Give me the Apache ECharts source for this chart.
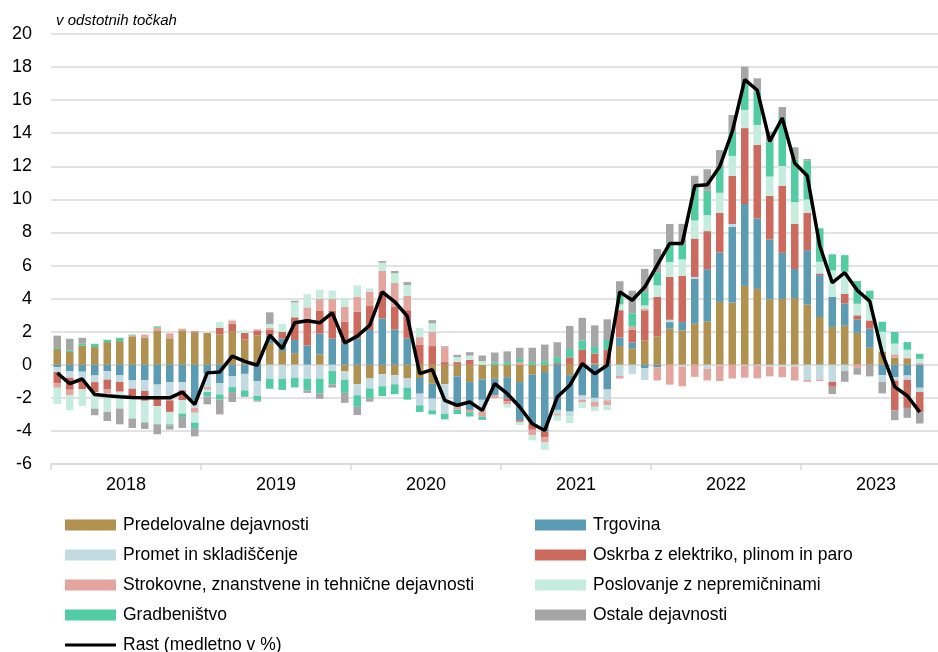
<!DOCTYPE html>
<html>
<head>
<meta charset="utf-8">
<title>Prispevki dejavnosti k rasti</title>
<script src="https://cdn.jsdelivr.net/npm/echarts@6/dist/echarts.min.js"></script>
<style>
  html, body { margin: 0; padding: 0; background: #ffffff; }
  #chart { width: 938px; height: 652px; }
</style>
</head>
<body>
<div id="chart"></div>
<script>
// leta na osi, 12 mesecev na leto (2023 samo do oktobra)
const years = ['2018', '2019', '2020', '2021', '2022', '2023']

// prispevki v odstotnih tockah, jan 2018 - okt 2023
const predelovalne = [0.95, 0.77, 1.15, 1.07, 1.37, 1.43, 1.72, 1.64, 2.04, 1.6, 2.08, 1.96,
  1.92, 1.84, 2.04, 1.52, 1.78, 1.31, 0.83, 0.7, 0, 0.63, 0, -0.4,
  -1.17, -0.83, -0.57, -0.63, -0.83, -0.8, -1.15, -1.17, -0.7, -1.05, -0.89, -0.85,
  -0.75, -1.05, -0.6, -0.44, 0, -0.63, -0.1, 0.08, 0, 1.13, 1.0, 1.47,
  1.72, 2.18, 2.08, 2.48, 2.63, 3.8, 3.76, 4.77, 4.59, 3.96, 3.98, 4.03,
  3.64, 2.89, 2.29, 2.36, 1.93, 1.03, 0.8, 0.43, 0.35, 0]
const trgovina = [-0.14, -0.4, -0.42, -0.65, -0.4, -0.64, -0.95, -0.93, -1.2, -1.05, -1.05, -2.15,
  -0.55, -1.1, -0.7, -0.55, -1.0, 0.46, 0.75, 0.8, 1.17, 1.25, 1.58, 1.3,
  1.6, 2.1, 2.8, 2.14, 1.6, -0.95, -0.9, 0, -1.86, -1.68, -1.23, -1.0,
  -1.3, -2.3, -2.97, -3.6, -2.73, -2.2, -1.76, -2.0, -1.5, 0.52, 0.34, -0.22,
  -0.15, 0.4, 0.5, 2.73, 3.15, 2.99, 4.59, 4.95, 4.26, 3.62, 2.79, 1.76,
  3.29, 2.53, 1.82, 1.35, 0.8, 1.15, -0.63, -0.75, -0.65, -1.39]
const promet = [-0.3, -0.38, -0.5, -0.4, -0.5, -0.4, -0.5, -0.65, -0.7, -1.1, -0.5, -0.45,
  -0.8, -0.7, -0.65, -1.0, -0.87, -0.85, -0.85, -0.8, -0.85, -0.85, -0.38, -0.5,
  -0.67, -0.6, -0.73, -0.55, -0.55, -0.7, -0.7, -1.8, 0, 0, -0.69, 0,
  0, 0, 0, 0, -0.25, -0.3, -0.26, -0.24, -0.65, -0.67, -0.57, -0.7,
  0, 0.14, -0.1, 0.1, -0.25, -0.05, 0.16, -0.05, -0.05, -0.1, -0.1, -0.1,
  -0.93, -0.9, -1.03, -0.38, 0, 0, -0.4, -0.2, -0.26, -0.26]
const oskrba = [-0.67, -0.73, -0.57, -0.6, -0.6, -0.55, -0.5, -0.6, -0.6, -0.7, -0.6, 0.06,
  0, 0.4, 0.44, 0.4, 0.26, 0.34, 0.4, 1.37, 1.6, 1.4, 1.7, 1.3,
  1.6, 1.45, 1.6, 1.37, 1.7, 1.23, 1.13, 0.16, 0.16, 0.3, 0, 0,
  -0.14, -0.1, -0.36, -0.34, 0.1, 0.45, 0.9, 0.6, 0.9, 1.65, 0.77, 1.82,
  2.38, 2.59, 2.79, 2.32, 2.3, 2.4, 2.91, 4.59, 4.44, 2.63, 4.04, 2.73,
  2.26, 0.1, -0.3, 0.57, 0.26, 0.5, 0, -1.8, -1.7, -1.2]
const strokovne = [-0.28, -0.34, 0, 0, -0.25, -0.06, 0.05, 0.18, 0.2, 0.3, 0.1, -0.3,
  -0.16, 0, 0.2, 0, 0.1, 0.12, 0, 0, 0.7, 0.7, 0.7, 0.9,
  0.9, 0.87, 1.27, 1.45, 0.87, 0.44, 0.87, 0.9, -0.15, -0.14, -0.32, -0.16,
  -0.2, 0.16, -0.34, -0.32, -0.1, 0, -0.16, -0.3, -0.3, -0.16, 0.2, 0.1,
  -0.8, -1.2, -1.2, -0.73, -0.7, -0.93, -0.83, -0.73, -0.77, -0.6, -0.65, -0.85,
  -0.1, -0.08, 0, 0, -0.2, 0, 0, 0.2, 0.08, 0.1]
const nepremicnine = [-0.97, -0.9, -1.0, -1.0, -1.1, -1.0, -1.3, -1.3, -1.1, -0.75, -0.8, -0.6,
  -0.14, 0.34, 0.05, 0.16, 0, 0.24, 0.5, 0.9, 0.8, 0.55, 0.5, 0.55,
  0.7, 0.2, 0.5, 0.57, 0.65, 0.55, 0.5, 0, 0.3, 0.26, 0.22, 0,
  -0.2, -0.2, -0.3, -0.44, -0.3, -0.4, -0.34, -0.26, -0.3, 0.35, 0, 0.2,
  0.7, 0.9, 1.0, 1.1, 0.97, 1.21, 1.21, 1.1, 1.21, 1.17, 1.21, 1.31,
  0.81, 0.71, 1.6, 1.35, 0.7, 1.3, 1.2, 0.65, 0.48, 0.26]
const gradbenistvo = [0.06, 0.1, 0.12, 0.2, 0.14, 0.2, 0.05, 0, 0.08, -0.06, -0.2, -0.33,
  -0.26, -0.3, -0.3, -0.34, -0.3, -0.6, -0.67, -0.57, -0.7, -0.87, -0.8, -0.8,
  -0.7, -0.6, -0.6, -0.6, -0.73, -0.4, -0.25, -0.33, -0.27, -0.26, -0.2, 0.14,
  0.16, 0.2, 0.16, 0.22, 0.36, 0.5, 0.57, 0.4, 0.6, 0.6, 0.8, 0.8,
  0.8, 1.2, 0.95, 2.0, 1.47, 1.58, 1.47, 1.62, 2.02, 2.12, 2.89, 2.57,
  2.34, 2.02, 0.97, 1.0, 1.37, 0.5, 0.6, 0.7, 0.46, 0.3]
const ostale = [0.75, 0.7, 0.36, -0.4, -0.55, -0.95, -0.57, -0.4, -0.6, -0.26, -0.67, -0.5,
  -0.48, -0.9, -0.6, -0.05, -0.06, 0.7, 0, 0.1, -0.15, -0.34, -0.2, -0.6,
  -0.5, -0.2, 0.1, 0.14, 0.18, 0, 0.2, 0.06, 0.14, 0.2, 0.34, 0.6,
  0.65, 0.67, 0.87, 1.0, 0.9, 1.4, 1.37, 1.3, 1.25, 0.8, 1.37, 1.41,
  1.4, 1.1, 1.2, 0.7, 1.3, 1.0, 1.0, 1.0, 0.8, 0.6, 0.67, 0.75,
  0.1, 0, -0.44, -0.65, -0.4, -0.7, -0.7, -0.6, -0.6, -0.7]
// medletna rast v %
const rast = [-0.5, -1.14, -0.86, -1.8, -1.87, -1.93, -1.98, -2.0, -2.0, -2.0, -1.65, -2.4,
  -0.49, -0.43, 0.52, 0.21, -0.03, 1.79, 0.98, 2.54, 2.66, 2.54, 3.14, 1.32,
  1.73, 2.39, 4.41, 3.81, 2.94, -0.54, -0.29, -2.15, -2.45, -2.25, -2.76, -1.14,
  -1.75, -2.55, -3.57, -3.97, -1.95, -1.24, 0.07, -0.54, -0.03, 4.41, 3.9, 4.7,
  6.03, 7.34, 7.34, 10.82, 10.88, 11.99, 14.1, 17.24, 16.6, 13.5, 14.92, 12.19,
  11.43, 7.2, 4.96, 5.57, 4.5, 3.85, 0.7, -1.34, -1.87, -2.86]

const yTicks = [-6, -4, -2, 0, 2, 4, 6, 8, 10, 12, 14, 16, 18, 20]

const months = []
years.forEach(y => {
  for (let m = 1; m <= 12; m++) {
    months.push(y + '-' + (m < 10 ? '0' + m : m))
  }
})

const font = "'Liberation Sans', Arial, sans-serif"

const barSeries = [
  { name: 'Predelovalne dejavnosti', data: predelovalne, color: '#B09150' },
  { name: 'Trgovina', data: trgovina, color: '#5B9BB4' },
  { name: 'Promet in skladiščenje', data: promet, color: '#C2DBE3' },
  { name: 'Oskrba z elektriko, plinom in paro', data: oskrba, color: '#CD6A5E' },
  { name: 'Strokovne, znanstvene in tehnične dejavnosti', data: strokovne, color: '#E3A59D' },
  { name: 'Poslovanje z nepremičninami', data: nepremicnine, color: '#C5EDDF' },
  { name: 'Gradbeništvo', data: gradbenistvo, color: '#52CCA2' },
  { name: 'Ostale dejavnosti', data: ostale, color: '#A6A6A6' }
]

const chart = echarts.init(document.getElementById('chart'), null, { renderer: 'canvas' })

const legendText = {
  color: '#000000',
  fontFamily: font,
  fontSize: 17.5,
  lineHeight: 20,
  padding: [0, 0, 0, 2]
}

function makeLegend(left, top, names, itemHeight) {
  return {
    orient: 'vertical',
    left: left,
    top: top,
    height: 160,
    padding: 0,
    itemGap: 10,
    itemWidth: 51,
    itemHeight: itemHeight,
    icon: 'rect',
    selectedMode: false,
    textStyle: legendText,
    data: names
  }
}

chart.setOption({
  animation: false,
  backgroundColor: '#ffffff',
  title: {
    text: 'v odstotnih točkah',
    left: 56,
    top: 13,
    padding: 0,
    textStyle: {
      fontFamily: font,
      fontSize: 15,
      fontStyle: 'italic',
      fontWeight: 'normal',
      color: '#000000'
    }
  },
  legend: [
    makeLegend(65, 515, [barSeries[0].name, barSeries[2].name, barSeries[4].name, barSeries[6].name], 11),
    makeLegend(535, 515, [barSeries[1].name, barSeries[3].name, barSeries[5].name, barSeries[7].name], 11),
    makeLegend(65, 635, ['Rast (medletno v %)'], 3)
  ],
  // graf je na desni odrezan: os tece do decembra 2023
  grid: {
    left: 51,
    width: 900,
    top: 34,
    bottom: 188,
    outerBoundsMode: 'none'
  },
  xAxis: [
    {
      type: 'category',
      data: months,
      show: false
    },
    {
      type: 'category',
      data: years,
      position: 'bottom',
      boundaryGap: true,
      axisLine: { lineStyle: { color: '#d9d9d9', width: 1.5 } },
      axisTick: { show: true, length: 6, interval: 0, lineStyle: { color: '#d9d9d9', width: 1.5 } },
      axisLabel: {
        color: '#000000',
        fontFamily: font,
        fontSize: 18,
        margin: 12,
        interval: 0
      },
      splitLine: { show: false }
    }
  ],
  yAxis: {
    type: 'value',
    min: yTicks[0],
    max: yTicks[yTicks.length - 1],
    interval: 2,
    axisLine: { show: false },
    axisTick: { show: false },
    axisLabel: {
      color: '#000000',
      fontFamily: font,
      fontSize: 18,
      margin: 19
    },
    splitLine: { lineStyle: { color: '#d9d9d9', width: 1.5 } }
  },
  series: barSeries.map(s => ({
    name: s.name,
    type: 'bar',
    xAxisIndex: 0,
    stack: 'prispevki',
    barWidth: '60%',
    itemStyle: { color: s.color },
    emphasis: { disabled: true },
    data: s.data
  })).concat([{
    name: 'Rast (medletno v %)',
    type: 'line',
    xAxisIndex: 0,
    symbol: 'none',
    z: 10,
    lineStyle: { color: '#000000', width: 3.5 },
    itemStyle: { color: '#000000' },
    emphasis: { disabled: true },
    data: rast
  }])
})
</script>
</body>
</html>
